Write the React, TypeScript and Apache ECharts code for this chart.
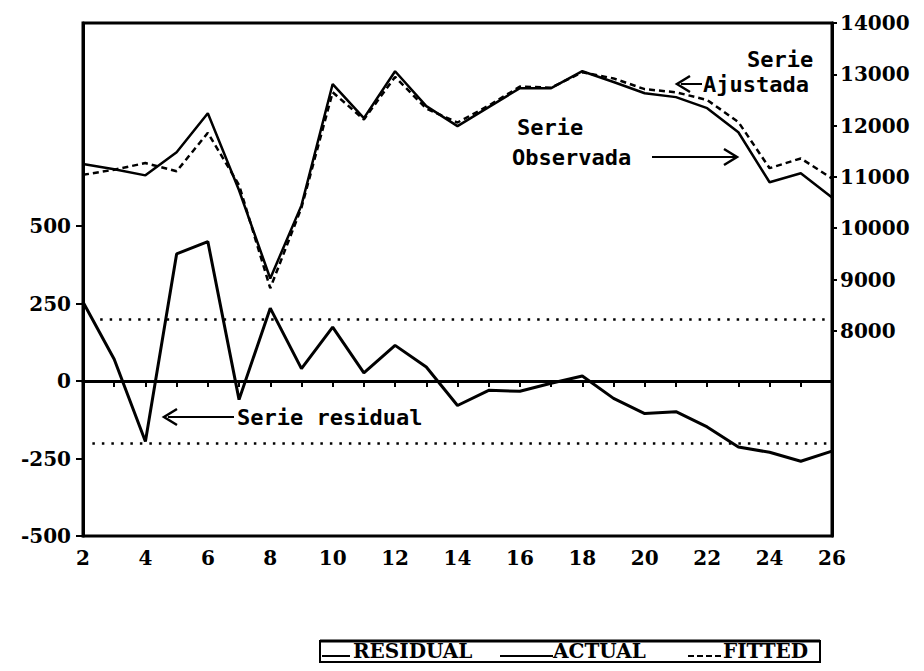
import React, { useEffect, useRef } from "react";
import * as echarts from "echarts";

const periods = [2, 3, 4, 5, 6, 7, 8, 9, 10, 11, 12, 13, 14, 15, 16, 17, 18, 19, 20, 21, 22, 23, 24, 25, 26];
const actual = [11250, 11150, 11030, 11480, 12240, 10740, 9020, 10445, 12810, 12145, 13060, 12380, 11990, 12360, 12730, 12730, 13060, 12850, 12630, 12555, 12340, 11870, 10895, 11070, 10600];
const fitted = [11040, 11140, 11270, 11110, 11860, 10840, 8830, 10400, 12650, 12120, 12950, 12330, 12060, 12390, 12760, 12740, 13040, 12920, 12710, 12650, 12500, 12070, 11170, 11360, 10970];
const residual = [255, 70, -195, 410, 450, -60, 235, 40, 174, 26, 115, 45, -79, -30, -33, -7, 16, -56, -105, -99, -148, -213, -230, -259, -226];
const bandUpper = 200;
const bandLower = -200;
const leftTicks = [-500, -250, 0, 250, 500];
const rightTicks = [8000, 9000, 10000, 11000, 12000, 13000, 14000];
const xLabels = [2, 4, 6, 8, 10, 12, 14, 16, 18, 20, 22, 24, 26];
const legendNames = ["RESIDUAL", "ACTUAL", "FITTED"];

const AX_FONT = { fontFamily: "DejaVu Serif", fontWeight: "bold" as const, fontSize: 20, color: "#000" };
const ANN_FONT = 'bold 22px "DejaVu Sans Mono"';
const LEG_FONT = 'bold 20px "DejaVu Serif"';

function txt(text: string, x: number, y: number, font: string) {
  return {
    type: "text",
    silent: true,
    style: { text, x, y, font, fill: "#000", textAlign: "left", verticalAlign: "middle", textVerticalAlign: "middle" },
  };
}
function seg(x1: number, y1: number, x2: number, y2: number, w = 2, dash?: number[]) {
  return {
    type: "line",
    silent: true,
    shape: { x1, y1, x2, y2 },
    style: { stroke: "#000", lineWidth: w, lineDash: dash },
  };
}
function arrowL(x: number, y: number) {
  return {
    type: "polyline",
    silent: true,
    shape: { points: [[x + 13, y - 8], [x, y], [x + 13, y + 8]] },
    style: { stroke: "#000", lineWidth: 2.5, fill: "none" },
  };
}
function arrowR(x: number, y: number) {
  return {
    type: "polyline",
    silent: true,
    shape: { points: [[x - 13, y - 8], [x, y], [x - 13, y + 8]] },
    style: { stroke: "#000", lineWidth: 2.5, fill: "none" },
  };
}

export default function App() {
  const ref = useRef<HTMLDivElement>(null);
  useEffect(() => {
    if (!ref.current) return;
    const chart = echarts.init(ref.current, undefined, { renderer: "svg" });
    const pair = (vals: number[]) => periods.map((p, i) => [p, vals[i]]);
    chart.setOption({
      animation: false,
      backgroundColor: "#fff",
      grid: { left: 83, right: 92, top: 23, bottom: 135, show: true, borderColor: "#000", borderWidth: 3, backgroundColor: "transparent" },
      xAxis: {
        type: "value",
        min: 2,
        max: 26,
        interval: 1,
        axisLine: { lineStyle: { color: "#000", width: 3 } },
        axisTick: { show: true, length: 6, lineStyle: { color: "#000", width: 2 } },
        axisLabel: { ...AX_FONT, margin: 12, formatter: (v: number) => (xLabels.includes(v) ? String(v) : "") },
        splitLine: { show: false },
      },
      yAxis: [
        {
          type: "value",
          position: "left",
          min: -500,
          max: 1155,
          axisLine: { show: true, lineStyle: { color: "#000", width: 3 } },
          axisTick: { show: true, length: 7, customValues: leftTicks, lineStyle: { color: "#000", width: 2 } },
          axisLabel: { ...AX_FONT, margin: 12, customValues: leftTicks, formatter: (v: number) => String(v) },
          splitLine: { show: false },
        },
        {
          type: "value",
          position: "right",
          min: 4000,
          max: 14000,
          axisLine: { show: true, lineStyle: { color: "#000", width: 3 } },
          axisTick: { show: true, length: 5, customValues: rightTicks, lineStyle: { color: "#000", width: 2 } },
          axisLabel: { ...AX_FONT, margin: 8, customValues: rightTicks, formatter: (v: number) => String(v) },
          splitLine: { show: false },
        },
      ],
      series: [
        {
          name: legendNames[0],
          type: "line",
          yAxisIndex: 0,
          data: pair(residual),
          symbol: "none",
          lineStyle: { color: "#000", width: 3 },
          markLine: {
            silent: true,
            symbol: ["none", "none"],
            label: { show: false },
            data: [
              { yAxis: 0, lineStyle: { type: "solid", width: 2.5, color: "#000" } },
              [
                { coord: [2.55, bandUpper], lineStyle: { type: [2.5, 7], width: 2.5, color: "#000" } },
                { coord: [26, bandUpper] },
              ],
              [
                { coord: [2.3, bandLower], lineStyle: { type: [2.5, 7], width: 2.5, color: "#000" } },
                { coord: [26, bandLower] },
              ],
            ],
          },
        },
        {
          name: legendNames[1],
          type: "line",
          yAxisIndex: 1,
          data: pair(actual),
          symbol: "none",
          lineStyle: { color: "#000", width: 2.5 },
        },
        {
          name: legendNames[2],
          type: "line",
          yAxisIndex: 1,
          data: pair(fitted),
          symbol: "none",
          lineStyle: { color: "#000", width: 2.5, type: [6, 4] },
        },
      ],
      graphic: [
        arrowL(164, 417),
        seg(168, 417, 234, 417, 2),
        txt("Serie residual", 237, 417, ANN_FONT),
        txt("Serie", 747, 59, ANN_FONT),
        arrowL(677, 84),
        seg(681, 84, 702, 84, 2),
        txt("Ajustada", 703, 84, ANN_FONT),
        txt("Serie", 517, 127, ANN_FONT),
        txt("Observada", 512, 157, ANN_FONT),
        seg(652, 157, 735, 157, 2),
        arrowR(737, 157),
        {
          type: "rect",
          silent: true,
          shape: { x: 320, y: 641, width: 500, height: 21 },
          style: { stroke: "#000", lineWidth: 2, fill: "none" },
        },
        seg(320, 641, 820, 641, 3),
        seg(322, 656, 350, 656, 2),
        txt(legendNames[0], 353, 651, LEG_FONT),
        seg(500, 656, 553, 656, 2),
        txt(legendNames[1], 553, 651, LEG_FONT),
        seg(688, 656, 722, 656, 2, [6, 3]),
        txt(legendNames[2], 723, 651, LEG_FONT),
      ],
    });
    return () => chart.dispose();
  }, []);
  return <div ref={ref} style={{ position: "absolute", left: 0, top: 0, width: 924, height: 671, background: "#fff" }} />;
}
